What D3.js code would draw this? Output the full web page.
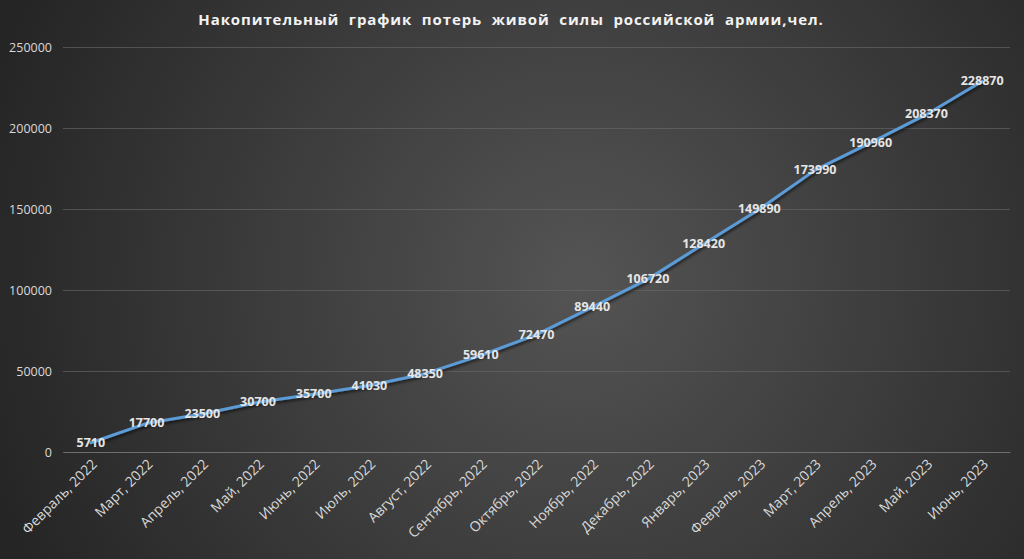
<!DOCTYPE html>
<html><head><meta charset="utf-8">
<script src="https://cdn.jsdelivr.net/npm/d3@7/dist/d3.min.js"></script>
<style>html,body{margin:0;padding:0;background:#2b2b2b;}svg{display:block;}</style>
</head><body>
<svg id="chart" width="1024" height="559"></svg>
<script>
const categories = ["Февраль, 2022","Март, 2022","Апрель, 2022","Май, 2022","Июнь, 2022","Июль, 2022","Август, 2022","Сентябрь, 2022","Октябрь, 2022","Ноябрь, 2022","Декабрь, 2022","Январь, 2023","Февраль, 2023","Март, 2023","Апрель, 2023","Май, 2023","Июнь, 2023"];
const losses = [5710,17700,23500,30700,35700,41030,48350,59610,72470,89440,106720,128420,149890,173990,190960,208370,228870];
const yTicks = [0,50000,100000,150000,200000,250000];
const title = "Накопительный  график  потерь  живой  силы  российской  армии,чел.";

const W = 1024, H = 559;
const m = {l:63, r:14, t:47, b:107};
const svg = d3.select("#chart");
const defs = svg.append("defs");
const rg = defs.append("radialGradient").attr("id","bg").attr("gradientUnits","userSpaceOnUse")
  .attr("cx",580).attr("cy",280).attr("r",620);
rg.append("stop").attr("offset","0%").attr("stop-color","#545454");
rg.append("stop").attr("offset","100%").attr("stop-color","#252525");
const f = defs.append("filter").attr("id","sh").attr("x","-10%").attr("y","-10%").attr("width","120%").attr("height","120%");
f.append("feDropShadow").attr("dx",1).attr("dy",2).attr("stdDeviation",1.5).attr("flood-color","#000").attr("flood-opacity",0.6);

svg.append("rect").attr("width",W).attr("height",H).attr("fill","url(#bg)");

const x = d3.scaleBand().domain(categories).range([m.l, W-m.r]);
const y = d3.scaleLinear().domain([0,250000]).range([H-m.b, m.t]);

svg.append("text").attr("x",511).attr("y",25).attr("text-anchor","middle")
  .attr("font-family","'Open Sans', sans-serif").attr("font-weight","bold").attr("font-size",15)
  .attr("letter-spacing","0.9").attr("fill","#f2f2f2").text(title).style("white-space","pre");

const gy = svg.append("g").attr("transform",`translate(${m.l},0)`)
  .call(d3.axisLeft(y).tickValues(yTicks).tickSize(-(W-m.l-m.r)).tickPadding(11).tickFormat(d3.format("d")));
gy.select(".domain").remove();
gy.selectAll(".tick line").attr("stroke","#6a6a6a").attr("stroke-opacity",0.6);
gy.selectAll(".tick text").attr("fill","#d9d9d9").attr("font-size",12.5).attr("font-family","'Open Sans', sans-serif");

const gx = svg.append("g").attr("transform",`translate(0,${H-m.b})`)
  .call(d3.axisBottom(x).tickSize(0).tickPadding(0));
gx.select(".domain").attr("stroke","#7a7a7a").attr("stroke-opacity",0.7);
gx.selectAll(".tick text").attr("fill","#d9d9d9").attr("font-size",14).attr("font-family","'Open Sans', sans-serif")
  .attr("text-anchor","end").attr("dy",0).attr("transform","translate(7,13) rotate(-45)");

const line = d3.line().x((d,i)=>x(categories[i])+x.bandwidth()/2).y(d=>y(d));
svg.append("path").datum(losses).attr("d",line).attr("fill","none")
  .attr("stroke","#5b9bd5").attr("stroke-width",3).attr("stroke-linejoin","round").attr("stroke-linecap","round")
  .attr("filter","url(#sh)");

svg.append("g").selectAll("text").data(losses).join("text")
  .attr("x",(d,i)=>x(categories[i])+x.bandwidth()/2)
  .attr("y",d=>y(d)+4)
  .attr("text-anchor","middle").attr("font-family","'Open Sans', sans-serif").attr("font-weight","bold")
  .attr("font-size",12.5).attr("fill","#e6e6e6").text(d=>d);
</script>
</body></html>
